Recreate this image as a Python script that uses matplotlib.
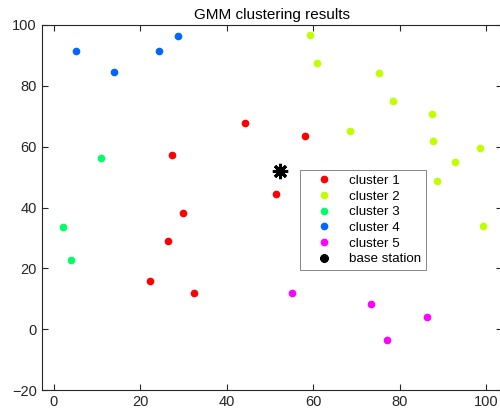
import matplotlib
matplotlib.use("Agg")
import matplotlib.pyplot as plt

plt.rcParams["font.family"] = ["Liberation Sans", "DejaVu Sans"]

# cluster members (x, y)
cluster1_x = [27.4, 44.3, 58.1, 51.5, 29.8, 26.4, 22.2, 32.5]
cluster1_y = [57.4, 67.9, 63.4, 44.3, 38.2, 28.9, 15.8, 11.9]
cluster2_x = [59.2, 60.9, 75.2, 78.4, 87.5, 68.5, 87.6, 98.5, 92.8, 88.6, 99.2]
cluster2_y = [96.7, 87.4, 84.1, 74.9, 70.6, 65.3, 62.0, 59.6, 55.0, 48.8, 34.0]
cluster3_x = [11.0, 2.1, 4.1]
cluster3_y = [56.4, 33.5, 22.9]
cluster4_x = [5.2, 13.9, 24.3, 28.8]
cluster4_y = [91.5, 84.5, 91.6, 96.3]
cluster5_x = [55.0, 73.4, 86.2, 77.1]
cluster5_y = [12.1, 8.2, 4.2, -3.4]
base_x = [52.2]
base_y = [51.9]

labels = ["cluster 1", "cluster 2", "cluster 3", "cluster 4", "cluster 5"]
colors = [(1, 0, 0), (0.75, 1, 0), (0, 1, 0.4), (0, 0.4, 1), (1, 0, 1)]
xs = [cluster1_x, cluster2_x, cluster3_x, cluster4_x, cluster5_x]
ys = [cluster1_y, cluster2_y, cluster3_y, cluster4_y, cluster5_y]

fig = plt.figure(figsize=(5.0, 4.16), dpi=100)
ax = fig.add_axes([0.083, 0.062, 0.92, 0.878])

for x, y, c, lab in zip(xs, ys, colors, labels):
    ax.plot(x, y, "o", color=c, markersize=4.5, label=lab)
# asterisk made of 4 crossing strokes
ax.plot(base_x, base_y, marker=(8, 2, 0), linestyle="none", color="k",
        markersize=11, markeredgewidth=2.2, label="base station")

ax.set_xlim(-2.8, 103.5)
ax.set_ylim(-20, 100)
ax.set_xticks([0, 20, 40, 60, 80, 100])
ax.set_yticks([-20, 0, 20, 40, 60, 80, 100])

axc = (0.15, 0.15, 0.15)
for s in ax.spines.values():
    s.set_color(axc)
    s.set_linewidth(0.8)
ax.tick_params(direction="in", length=4, width=0.8, colors=axc, labelsize=10.5,
               top=True, right=True)
ax.set_title("GMM clustering results", fontsize=11, color="k", pad=4)

leg = ax.legend(loc="upper left", bbox_to_anchor=(0.562, 0.602), fontsize=9.6,
                frameon=True, fancybox=False, edgecolor=(0.4, 0.4, 0.4),
                handlelength=3.0, handletextpad=0.35, borderpad=0.33,
                labelspacing=0.25, borderaxespad=0)
leg.get_frame().set_linewidth(0.7)
leg.legend_handles[-1].set_markersize(6)
leg.legend_handles[-1].set_markeredgewidth(2.0)

fig.savefig("out.png", dpi=100)
